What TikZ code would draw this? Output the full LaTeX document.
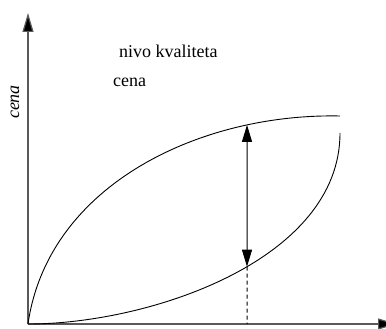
\documentclass[tikz,border=0pt]{standalone}
\usepackage{fontspec}
\setmainfont{Liberation Serif}
\usetikzlibrary{arrows.meta,intersections}
\tikzset{
  axis/.style={draw=black!65, line width=1.2pt, -{Triangle[length=19pt,width=11pt,fill=black]}},
  curve/.style={draw=black, line width=0.9pt},
  dimarrow/.style={draw=black, line width=1pt, {Triangle[length=17pt,width=10pt]}-{Triangle[length=17pt,width=10pt]}},
  lbl/.style={font=\fontsize{18}{20}\selectfont, inner sep=0pt}
}
\begin{document}
\begin{tikzpicture}[x=1pt,y=-1pt]
\useasboundingbox (0,0) rectangle (386,329);
\coordinate (O) at (28,324);
\coordinate (Ytop) at (28,13);
\coordinate (Xend) at (397,324);
\draw[axis] (O) -- (Ytop);
\draw[axis] (O) -- (Xend);
\path[curve, name path=upper] (O) .. controls (48,185) and (200,113) .. (340,116);
\path[curve, name path=lower] (O) .. controls (150,324) and (340,260) .. (340,133);
\path[name path=vline] (247,0) -- (247,329);
\path[name intersections={of=upper and vline, by=A}];
\path[name intersections={of=lower and vline, by=B}];
\coordinate (Bx) at (247,324);
\draw[dimarrow] (B) -- (A);
\draw[black, line width=1pt, dash pattern=on 4pt off 3pt] (B) -- (Bx);
\node[lbl, anchor=base west] (q) at (119,58) {nivo kvaliteta};
\node[lbl, anchor=base west] (c) at (113,86.5) {cena};
\node[lbl, rotate=90, font=\fontsize{18}{20}\selectfont\itshape] (ya) at (15,102) {cena};
\end{tikzpicture}
\end{document}
